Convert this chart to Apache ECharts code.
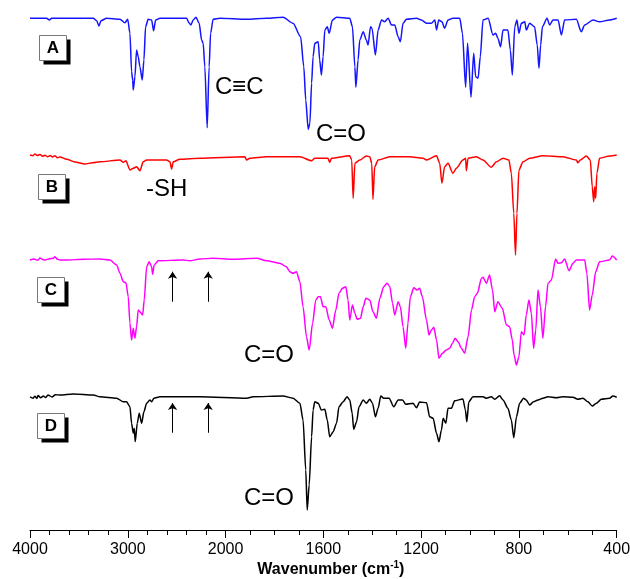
<!DOCTYPE html>
<html><head><meta charset="utf-8">
<script src="https://cdn.jsdelivr.net/npm/echarts@6/dist/echarts.min.js"></script>
<style>html,body{margin:0;padding:0;background:#fff}#c{width:630px;height:579px}</style>
</head><body><div id="c"></div><script>
// Axis (piecewise: 4000-2000 at 1000/major, 2000-400 at 400/major)
const tickWavenumbers = [4000, 3000, 2000, 1600, 1200, 800, 400];
const minorTickWavenumbers = [3800,3600,3400,3200,2800,2600,2400,2200,1900,1800,1700,1500,1400,1300,1100,1000,900,700,600,500];

// Spectra: [wavenumber (cm-1), relative transmittance]
const specA = [[4000,97.4],[3829,97.4],[3803,96],[3778,97.4],[3353,97.4],[3318,95.4],[3295,91.2],[3274,95.4],[3216,97.4],[3080,96.6],[3029,93.8],[3001,96.6],[2978,85.4],[2961,54.6],[2950,48],[2944,40],[2927,50.6],[2910,72],[2893,66.6],[2876,58.6],[2852,48],[2835,64],[2818,90.6],[2791,96.6],[2756,96],[2736,87.4],[2715,96],[2671,97.4],[2398,97.4],[2375,93.8],[2355,92],[2331,96],[2303,98.2],[2270,93.4],[2245,80],[2229,77.4],[2212,58.6],[2188,9.8],[2168,58.6],[2153,85.4],[2127,96.6],[2058,97.4],[1914,96.6],[1832,97.4],[1765,98.2],[1724,93.4],[1693,82.6],[1680,58.6],[1672,32],[1662,8.5],[1655,13.6],[1648,45.6],[1642,66.6],[1635,77.4],[1621,78.6],[1615,64],[1608,52],[1601,66.6],[1594,88],[1584,90.6],[1576,85.4],[1563,96],[1546,98.2],[1492,97.4],[1481,90.6],[1471,58.6],[1467,42.2],[1458,64],[1451,80],[1437,86.6],[1424,80],[1417,76],[1407,90.6],[1401,89.4],[1387,68],[1376,88],[1362,96],[1349,94.6],[1335,97.4],[1321,92],[1308,92],[1294,82.6],[1285,78.6],[1274,93.4],[1260,96.6],[1219,97.4],[1199,96],[1178,93.4],[1158,93.4],[1144,96],[1137,88],[1128,96],[1115,94.6],[1104,89.4],[1090,96],[1070,97.4],[1042,97.4],[1031,85.4],[1018,42.2],[1010,77.4],[996,34.2],[985,69.4],[977,50.6],[967,49.4],[958,66.6],[947,96],[926,97.4],[906,84],[895,85.4],[886,81.4],[875,74.6],[865,88],[845,88],[835,72],[827,52],[817,90.6],[808,96],[800,85.4],[790,93.4],[776,94.6],[770,88],[756,93.4],[736,90.6],[725,76],[718,57.4],[711,76],[704,90.6],[685,97.4],[674,92],[661,96],[640,96],[626,84],[613,96],[565,96.6],[545,86.6],[531,92],[497,96],[470,94.6],[429,96],[400,97.4]];

const specB = [[4000,88],[3970,87.4],[3949,88.8],[3925,87.6],[3898,88.4],[3870,87],[3847,87.8],[3820,86.6],[3793,87.6],[3770,86.4],[3745,87.4],[3720,85.8],[3693,86.4],[3625,84.6],[3540,82.4],[3438,80.8],[3360,81.8],[3285,82.6],[3080,84],[3046,82.2],[3019,83.4],[2978,76],[2944,77.4],[2910,78.6],[2876,75.4],[2842,82.6],[2807,84],[2603,84],[2569,82.6],[2552,76.8],[2535,82.6],[2467,84.6],[2263,85.4],[1921,86.6],[1914,84],[1901,85.4],[1832,86.6],[1696,86.6],[1648,83.4],[1635,85.4],[1581,85.4],[1574,82.2],[1567,85.4],[1492,87.4],[1484,84],[1478,53.4],[1471,81.4],[1451,84],[1424,87.2],[1410,86.6],[1402,81.4],[1397,52.6],[1390,78.6],[1376,84],[1328,86.6],[1247,86.6],[1192,85.4],[1178,84],[1137,87.4],[1124,81.4],[1115,65.4],[1104,78.6],[1090,81.4],[1070,73.4],[1056,77.4],[1029,84],[1018,85.4],[1015,75.4],[1008,85.4],[974,86.6],[947,84],[913,78.2],[892,82.6],[865,85.4],[841,84],[831,73.4],[821,41.4],[814,8],[808,41.4],[800,76],[783,82.6],[756,85.4],[702,87.4],[620,86.6],[565,84],[559,81.8],[549,84],[524,87.2],[508,84],[500,62.6],[494,50.6],[490,62.6],[486,53.4],[481,73.4],[470,85.4],[429,87.2],[400,88]];

const specC = [[4000,92],[3960,92.8],[3920,91.8],[3898,93.6],[3870,92.4],[3847,92],[3800,93],[3762,93.4],[3745,94.6],[3720,92.6],[3693,92],[3625,92],[3450,92.6],[3285,92.8],[3182,92],[3114,88],[3080,81.4],[3046,74.6],[3019,73.8],[2995,62.6],[2978,41.4],[2961,28],[2944,37.4],[2927,29.4],[2910,38.6],[2893,52],[2876,50.6],[2848,48],[2832,60],[2807,86.6],[2781,90.6],[2756,86.6],[2746,80.6],[2730,88],[2689,91.4],[2433,92],[2365,91.4],[2263,92.8],[2127,93.4],[1969,92.6],[1873,93.4],[1832,91.4],[1778,89.4],[1751,86.6],[1737,82.6],[1724,81.4],[1710,82.6],[1696,74.6],[1683,54.6],[1669,30.6],[1658,20],[1644,41.4],[1631,60],[1621,62.6],[1612,62.6],[1601,54.6],[1590,54.6],[1576,44],[1563,37.4],[1549,52],[1536,65.4],[1522,69.4],[1508,70.6],[1499,60],[1492,44],[1481,56],[1471,49.4],[1462,44.6],[1448,45.4],[1437,54.6],[1426,61.4],[1410,60],[1397,50.6],[1383,45.4],[1369,61.4],[1353,70.6],[1339,73.4],[1328,70.6],[1317,57.4],[1308,48],[1294,58.6],[1285,54.6],[1274,38.6],[1263,21.4],[1254,41.4],[1244,62.6],[1230,69.8],[1217,68],[1206,69.4],[1195,62.6],[1178,44],[1168,32],[1158,36],[1148,38.2],[1137,28],[1127,13.4],[1113,17.4],[1097,20],[1083,21.4],[1072,25.4],[1061,29.4],[1049,26.6],[1035,21.4],[1022,17.4],[1008,30.6],[994,52],[981,62.6],[970,65.4],[953,77.4],[947,78.2],[933,73.4],[920,80],[908,68],[899,50.6],[886,58.6],[868,53.4],[851,40],[838,38.6],[827,28],[820,16],[810,8],[800,14.6],[790,34.6],[779,32],[770,48],[759,60],[749,49.4],[740,21.4],[731,36],[722,68],[712,54.6],[702,29.4],[691,54.6],[681,73.4],[667,76],[650,92.8],[640,89.4],[626,89.8],[613,92.8],[595,83.4],[579,89.4],[565,92],[531,92],[522,81.4],[511,52],[500,64],[486,82.6],[470,90.6],[429,92],[418,95.2],[400,92]];

const specD = [[4000,94.6],[3970,93.4],[3949,95],[3930,93.2],[3918,95.6],[3890,93.8],[3864,95.2],[3840,94],[3816,96],[3775,94.4],[3740,96.2],[3693,96],[3557,96.8],[3353,96],[3285,94.6],[3114,93.4],[3046,90.6],[3012,90.6],[2978,86.6],[2961,73.4],[2944,65.4],[2934,69.4],[2924,58.6],[2903,73.4],[2883,81.4],[2858,73.4],[2835,82.6],[2807,89.4],[2774,92],[2756,90.6],[2733,93.4],[2671,94.6],[2263,94.6],[1914,93.4],[1887,94.6],[1765,95.2],[1724,93.4],[1696,89.4],[1683,76],[1672,36],[1666,4],[1658,24],[1648,62.6],[1642,84],[1635,90.6],[1621,89.4],[1608,84],[1594,84.6],[1584,76],[1574,62.6],[1560,66.6],[1546,73.4],[1536,86.6],[1519,90.6],[1503,94.6],[1492,92],[1482,81.4],[1476,68.6],[1464,74.6],[1454,86.6],[1437,92],[1424,89.4],[1410,92.6],[1399,89.4],[1387,78.6],[1376,85.4],[1365,95.2],[1353,93.4],[1331,93.4],[1312,86.6],[1294,92],[1276,92],[1263,88.6],[1233,89.4],[1219,85.8],[1206,90.4],[1178,89.8],[1165,78.6],[1151,77.4],[1137,65.4],[1127,58.6],[1117,68],[1110,77.4],[1099,73.4],[1090,85.4],[1076,85.4],[1063,91.4],[1029,92.8],[1019,84],[1013,74.6],[1005,90.6],[988,94.6],[947,94.6],[933,93.4],[913,94.6],[899,92.6],[879,95.4],[865,92],[845,85.4],[831,76],[821,61.8],[810,78.6],[797,89.4],[781,93.4],[770,92],[756,88],[740,90.6],[722,92],[702,93.4],[681,94.6],[647,93.8],[620,94.6],[579,94.2],[559,92.6],[538,93.4],[518,90.6],[500,87.2],[483,89.4],[463,92.6],[429,93.4],[416,95.2],[400,94.2]];

const spectra = [
  {name: 'A', data: specA, color: '#1414ff'},
  {name: 'B', data: specB, color: '#ff0000'},
  {name: 'C', data: specC, color: '#ff00ff'},
  {name: 'D', data: specD, color: '#000000'}
];
// Arrows marking absence of -SH and C≡C bands in C and D
const arrowWavenumbers = [2542, 2178];
const arrowRangeC = [58.6, 82.6];
const arrowRangeD = [65.8, 89.6];

function pos(w) { return w >= 2000 ? (4000 - w) / 1000 : 2 + (2000 - w) / 400; }

const gridTops = [15, 140, 250, 390];
const FONT = 'Liberation Sans, Arial, DejaVu Sans, sans-serif';

const grids = gridTops.map(t => ({left: 30, right: 13.3, top: t, height: 125, outerBoundsMode: 'none', containLabel: false}));
// extra thin grid whose bottom edge is the axis line (for the minor ticks)
grids.push({left: 30, right: 13.3, top: 520, height: 10, outerBoundsMode: 'none', containLabel: false});

const xAxes = gridTops.map((t, i) => ({
  type: 'value', gridIndex: i, min: 0, max: 6, position: 'bottom',
  show: i === 3, offset: i === 3 ? 15 : 0,
  splitLine: {show: false},
  axisLine: {show: true, onZero: false, lineStyle: {color: '#000', width: 1}},
  axisTick: {show: true, inside: false, length: 8, lineStyle: {color: '#000', width: 1}, customValues: tickWavenumbers.map(pos)},
  axisLabel: {show: true, margin: 12, fontSize: 16, color: '#000', fontFamily: FONT,
    customValues: tickWavenumbers.map(pos),
    formatter: v => String(tickWavenumbers[Math.round(v)])},
  name: i === 3 ? 'Wavenumber (cm{sup|-1})' : '',
  nameLocation: 'middle', nameGap: 30,
  nameTextStyle: {fontSize: 16, fontWeight: 'bold', color: '#000', fontFamily: FONT, padding: [0, 0, 0, 15], lineHeight: 20,
    rich: {sup: {fontSize: 10, fontWeight: 'bold', color: '#000', fontFamily: FONT, verticalAlign: 'top', lineHeight: 12}}}
}));
xAxes.push({
  type: 'value', gridIndex: 4, min: 0, max: 6, position: 'bottom', offset: 0,
  splitLine: {show: false},
  axisLine: {show: false, onZero: false},
  axisTick: {show: true, inside: false, length: 5, lineStyle: {color: '#000', width: 1}, customValues: minorTickWavenumbers.map(pos)},
  axisLabel: {show: false}
});
const yAxes = gridTops.map((t, i) => ({type: 'value', gridIndex: i, min: 0, max: 100, show: false}));
yAxes.push({type: 'value', gridIndex: 4, min: 0, max: 1, show: false});

function arrowLines(range) {
  return arrowWavenumbers.map(w => [{coord: [pos(w), range[0]]}, {coord: [pos(w), range[1]]}]);
}

const series = spectra.map((s, i) => {
  const o = {
    name: s.name, type: 'line', xAxisIndex: i, yAxisIndex: i,
    data: s.data.map(([w, t]) => [pos(w), t]),
    showSymbol: false, symbol: 'none', smooth: 0.25, smoothMonotone: 'x',
    lineStyle: {color: s.color, width: 1.5}, itemStyle: {color: s.color},
    animation: false, silent: true, clip: false
  };
  if (s.name === 'C' || s.name === 'D') {
    o.markLine = {
      silent: true, animation: false, symbol: ['none', 'arrow'], symbolSize: 7,
      lineStyle: {color: '#000', width: 1, type: 'solid'},
      itemStyle: {color: '#000'},
      label: {show: false}, emphasis: {disabled: true},
      data: arrowLines(s.name === 'C' ? arrowRangeC : arrowRangeD)
    };
  }
  return o;
});

// Panel label boxes
const boxPos = [[39, 35], [38, 174], [37, 277], [37, 413]];
const graphics = [];
spectra.forEach((s, i) => {
  const [bx, by] = boxPos[i];
  graphics.push({
    type: 'group', left: bx, top: by, silent: true,
    children: [
      {type: 'rect', shape: {x: 4, y: 4, width: 27, height: 25}, style: {fill: '#000'}},
      {type: 'rect', shape: {x: 0, y: 0, width: 27, height: 25}, style: {fill: '#fff', stroke: '#777', lineWidth: 1}},
      {type: 'text', style: {x: 13.5, y: 13, text: s.name, font: 'bold 17px ' + FONT, fill: '#000',
        textAlign: 'center', textVerticalAlign: 'middle', align: 'center', verticalAlign: 'middle'}}
    ]
  });
});
// Band annotations
const annotations = [
  {text: 'C\u2261C', x: 215, y: 87},
  {text: 'C=O', x: 316, y: 134},
  {text: '-SH', x: 146, y: 189},
  {text: 'C=O', x: 244, y: 355},
  {text: 'C=O', x: 244, y: 498}
];
annotations.forEach(a => graphics.push({
  type: 'text', silent: true,
  style: {x: a.x, y: a.y, text: a.text, font: '24px ' + FONT, fill: '#000',
    textAlign: 'left', textVerticalAlign: 'middle', align: 'left', verticalAlign: 'middle'}
}));

const chart = echarts.init(document.getElementById('c'), null, {renderer: 'canvas'});
chart.setOption({
  backgroundColor: '#fff',
  animation: false,
  grid: grids, xAxis: xAxes, yAxis: yAxes, series: series,
  graphic: {elements: graphics}
});
</script></body></html>
